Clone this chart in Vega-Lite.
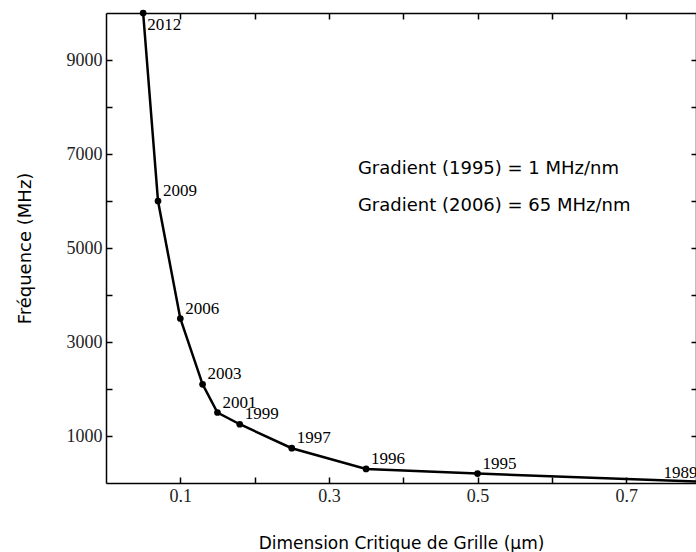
{
  "$schema": "https://vega.github.io/schema/vega-lite/v6.json",
  "width": 590,
  "height": 470,
  "autosize": "none",
  "padding": {"left": 106, "top": 13, "right": 0, "bottom": 69},
  "background": "white",
  "config": {
    "view": {"stroke": null},
    "axis": {
      "grid": false,
      "domainColor": "black",
      "domainWidth": 1.5,
      "tickColor": "black",
      "tickWidth": 1.5,
      "labelFont": "Liberation Serif",
      "labelFontSize": 18,
      "labelColor": "#222",
      "titleFont": "DejaVu Sans",
      "titleFontSize": 17,
      "titleFontWeight": "normal",
      "titleColor": "black"
    }
  },
  "datasets": {
    "points": [
      {"year": "2012", "gate": 0.05, "freq": 10000},
      {"year": "2009", "gate": 0.07, "freq": 6000},
      {"year": "2006", "gate": 0.1, "freq": 3500},
      {"year": "2003", "gate": 0.13, "freq": 2100},
      {"year": "2001", "gate": 0.15, "freq": 1500},
      {"year": "1999", "gate": 0.18, "freq": 1250},
      {"year": "1997", "gate": 0.25, "freq": 740},
      {"year": "1996", "gate": 0.35, "freq": 300},
      {"year": "1995", "gate": 0.5, "freq": 200},
      {"year": "1989", "gate": 0.8, "freq": 30}
    ],
    "notes": [
      {"note": "Gradient (1995) = 1 MHz/nm", "gate": 0.339, "freq": 6680},
      {"note": "Gradient (2006) = 65 MHz/nm", "gate": 0.339, "freq": 5900}
    ]
  },
  "layer": [
    {
      "data": {"name": "points"},
      "mark": {"type": "line", "color": "black", "strokeWidth": 2.5, "clip": false,
               "point": {"filled": true, "color": "black", "size": 45}},
      "encoding": {
        "x": {"field": "gate", "type": "quantitative",
              "scale": {"domain": [0, 0.794], "nice": false, "zero": false},
              "axis": {"orient": "bottom", "values": [0.1, 0.2, 0.3, 0.4, 0.5, 0.6, 0.7],
                       "labelExpr": "indexof([1,3,5,7], round(datum.value*10)) >= 0 ? format(datum.value, '.1f') : ''",
                       "tickSize": -6, "labelPadding": 10, "labelFlush": false, "labelOverlap": false,
                       "title": "Dimension Critique de Grille (µm)", "titlePadding": 30}},
        "y": {"field": "freq", "type": "quantitative",
              "scale": {"domain": [0, 10000], "nice": false},
              "axis": {"orient": "left", "values": [1000, 2000, 3000, 4000, 5000, 6000, 7000, 8000, 9000],
                       "labelExpr": "datum.value % 2000 == 1000 ? format(datum.value, 'd') : ''",
                       "tickSize": -6, "labelPadding": 10, "labelFlush": false, "labelOverlap": false,
                       "title": "Fréquence (MHz)", "titleFontSize": 18, "titlePadding": 32}}
      }
    },
    {
      "data": {"name": "points"},
      "transform": [{"filter": "datum.year != '2012' && datum.year != '1989'"}],
      "mark": {"type": "text", "font": "Liberation Serif", "fontSize": 17, "align": "left", "baseline": "alphabetic", "dx": 5, "dy": -5, "color": "black"},
      "encoding": {
        "x": {"field": "gate", "type": "quantitative",
              "axis": {"orient": "top", "values": [0.1, 0.2, 0.3, 0.4, 0.5, 0.6, 0.7], "labels": false, "tickSize": -6, "title": null}},
        "y": {"field": "freq", "type": "quantitative",
              "axis": {"orient": "right", "values": [1000, 2000, 3000, 4000, 5000, 6000, 7000, 8000, 9000], "labels": false, "tickSize": -5, "title": null}},
        "text": {"field": "year"}
      }
    },
    {
      "data": {"name": "points"},
      "transform": [{"filter": "datum.year == '2012'"}],
      "mark": {"type": "text", "font": "Liberation Serif", "fontSize": 17, "align": "left", "baseline": "alphabetic", "dx": 4, "dy": 17, "color": "black"},
      "encoding": {
        "x": {"field": "gate", "type": "quantitative", "axis": null},
        "y": {"field": "freq", "type": "quantitative", "axis": null},
        "text": {"field": "year"}
      }
    },
    {
      "data": {"name": "points"},
      "transform": [{"filter": "datum.year == '1989'"}],
      "mark": {"type": "text", "font": "Liberation Serif", "fontSize": 17, "align": "left", "baseline": "alphabetic", "dx": -37, "dy": -4, "color": "black"},
      "encoding": {
        "x": {"field": "gate", "type": "quantitative", "axis": null},
        "y": {"field": "freq", "type": "quantitative", "axis": null},
        "text": {"field": "year"}
      }
    },
    {
      "data": {"name": "notes"},
      "mark": {"type": "text", "font": "DejaVu Sans", "fontSize": 18, "align": "left", "baseline": "middle", "color": "black"},
      "encoding": {
        "x": {"field": "gate", "type": "quantitative", "axis": null},
        "y": {"field": "freq", "type": "quantitative", "axis": null},
        "text": {"field": "note"}
      }
    }
  ]
}
